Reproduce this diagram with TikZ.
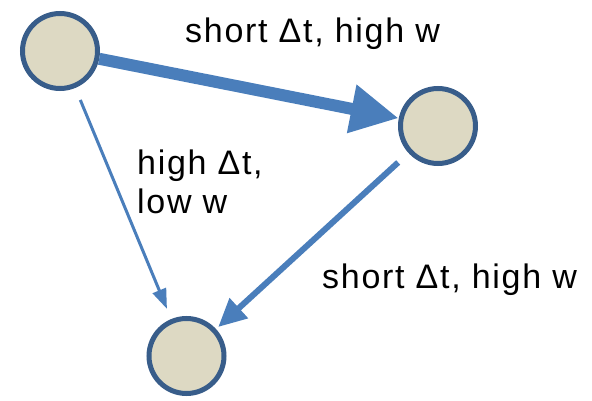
\documentclass[tikz,border=0pt]{standalone}
\usepackage{fontspec}
\setmainfont{Liberation Sans}[LetterSpace=5]
\usetikzlibrary{arrows.meta}
\definecolor{nodefill}{HTML}{DDD9C3}
\definecolor{nodeline}{HTML}{385D8A}
\definecolor{edgeblue}{HTML}{4A7EBB}
\tikzset{
  neuron/.style={circle, draw=nodeline, fill=nodefill, line width=5pt, minimum size=75pt, inner sep=0pt},
  lbl/.style={anchor=base west, inner sep=0pt, font=\fontsize{34}{38}\selectfont},
  conn/.style={draw=edgeblue, fill=edgeblue}
}
\begin{document}
\begin{tikzpicture}[x=1pt,y=-1pt]
\useasboundingbox (0,0) rectangle (592,401);
\node[neuron] (A) at (60,51) {};
\node[neuron] (B) at (438,126) {};
\node[neuron] (C) at (186.5,356) {};
\draw[conn, line width=12pt, -{Triangle[length=48pt,width=46pt]}] (A) -- (B);
\draw[conn, line width=3pt, shorten <=13pt, shorten >=11pt, -{Triangle[length=20pt,width=14pt]}] (A) -- (C);
\draw[conn, line width=6pt, shorten <=14pt, shorten >=3pt, -{Triangle[length=28pt,width=26pt]}] (B) -- (C);
\node[lbl] (l1) at (185,43) {short Δt, high w};
\node[lbl] (l2) at (137,175) {high Δt,};
\node[lbl] (l3) at (137,213) {low w};
\node[lbl] (l4) at (322,288) {short Δt, high w};
\end{tikzpicture}
\end{document}
